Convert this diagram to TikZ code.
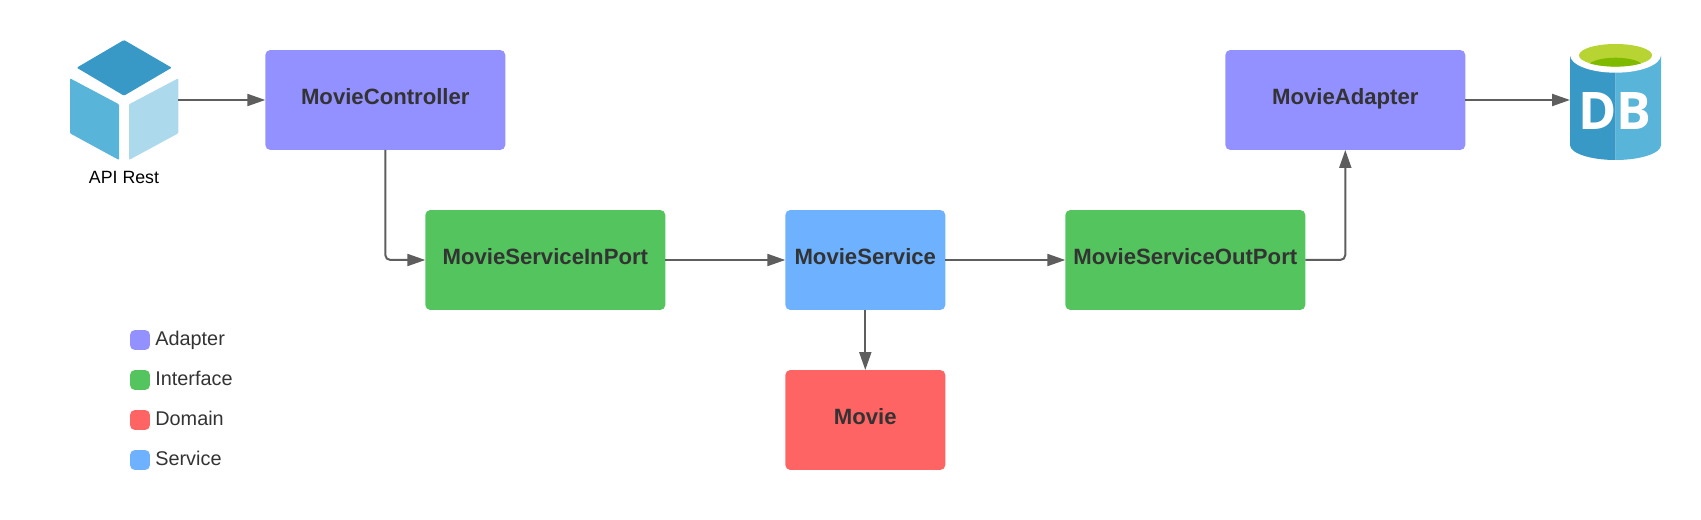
\documentclass[tikz,border=0pt]{standalone}
\usepackage{fontspec}
\setmainfont{Liberation Sans}
\newfontfamily\dbfont{Open Sans}
\usetikzlibrary{arrows.meta}
\definecolor{adaptercol}{HTML}{9391FF}
\definecolor{interfacecol}{HTML}{54C45E}
\definecolor{domaincol}{HTML}{FF6464}
\definecolor{servicecol}{HTML}{6DB1FF}
\definecolor{linecol}{HTML}{5E5E5E}
\definecolor{textcol}{HTML}{333333}
\definecolor{cubedark}{HTML}{3999C6}
\definecolor{cubemid}{HTML}{59B4D9}
\definecolor{cubelight}{HTML}{ADD9EC}
\definecolor{dblime}{HTML}{B8D432}
\definecolor{dbgreen}{HTML}{7FBA00}
\tikzstyle{box} = [rectangle, rounded corners=0.1cm, minimum height=2cm, outer sep=0pt, inner sep=0pt, text centered, text height=10pt, text depth=4.4pt, text=textcol, font=\fontsize{12.6}{15}\selectfont\bfseries]
\tikzstyle{adapterbox} = [box, minimum width=4.8cm, fill=adaptercol]
\tikzstyle{interfacebox} = [box, minimum width=4.8cm, fill=interfacecol]
\tikzstyle{servicebox} = [box, minimum width=3.2cm, fill=servicecol]
\tikzstyle{domainbox} = [box, minimum width=3.2cm, fill=domaincol]
\tikzstyle{legendbox} = [rectangle, rounded corners=0.1cm, minimum width=0.4cm, minimum height=0.4cm, inner sep=0pt, outer sep=0pt]
\tikzstyle{legendtext} = [anchor=base west, inner sep=0pt, text=textcol, font=\fontsize{11.3}{14}\selectfont]
\tikzstyle{icon} = [rectangle, inner sep=0pt, outer sep=0pt]
\tikzstyle{arrow} = [line width=0.04cm, draw=linecol, -{Triangle[length=0.36cm,width=0.24cm]}, rounded corners=0.1cm]

\begin{document}
\begin{tikzpicture}[x=0.02cm, y=-0.02cm]
               \useasboundingbox (0,0) rectangle (1701,520);
               % cube
               \fill [cubedark, rounded corners=0.02cm] (124,40) -- (171.7,67.7) -- (124,95.7) -- (76.7,67.7) -- cycle;
               \fill [cubemid, rounded corners=0.02cm] (70,78.3) -- (119,104.3) -- (119,160) -- (70,133.3) -- cycle;
               \fill [cubelight, rounded corners=0.02cm] (129,104.3) -- (178.3,78.3) -- (178.3,133.3) -- (129,160) -- cycle;
               \node [icon, minimum width=2.166cm, minimum height=2.4cm] at (124.15,100) (api) {};
               \node [anchor=base, inner sep=0pt, font=\fontsize{10.1}{12}\selectfont] at (124,184) (apilabel) {API Rest};
               % database
               \fill [cubedark] (1570,55) -- (1615.5,55) -- (1615.5,160) arc [start angle=90, end angle=180, x radius=45.5, y radius=15] -- cycle;
               \fill [cubemid] (1615.5,55) -- (1661,55) -- (1661,145) arc [start angle=0, end angle=90, x radius=45.5, y radius=15] -- cycle;
               \fill [white] (1615.5,55) ellipse [x radius=45.5, y radius=17.7];
               \fill [dblime] (1615.5,55.3) ellipse [x radius=36.5, y radius=11.3];
               \begin{scope}
               \clip (1615.5,55.3) ellipse [x radius=36.5, y radius=11.3];
               \fill [dbgreen] (1615.5,66.7) ellipse [x radius=27.5, y radius=9];
               \end{scope}
               \node [icon, minimum width=1.82cm, minimum height=2.4cm] at (1615.5,100) (db) {};
               \node [inner sep=0pt, text=white, font=\fontsize{29.5}{32}\selectfont\dbfont\bfseries] at (1615,111) (dblabel) {DB};
               % boxes
               \node [adapterbox] at (385.3,100) (controller) {MovieController};
               \node [interfacebox] at (545.3,260) (inport) {MovieServiceInPort};
               \node [servicebox] at (865.3,260) (moviesvc) {MovieService};
               \node [domainbox] at (865.3,420) (movie) {Movie};
               \node [interfacebox] at (1185.3,260) (outport) {MovieServiceOutPort};
               \node [adapterbox] at (1345.3,100) (movieadapter) {MovieAdapter};
               % legend
               \node [legendbox, fill=adaptercol] at (140,340) (legend1) {};
               \node [legendbox, fill=interfacecol] at (140,380) (legend2) {};
               \node [legendbox, fill=domaincol] at (140,420) (legend3) {};
               \node [legendbox, fill=servicecol] at (140,460) (legend4) {};
               \node [legendtext] at (155,345) (legendlabel1) {Adapter};
               \node [legendtext] at (155,385) (legendlabel2) {Interface};
               \node [legendtext] at (155,425) (legendlabel3) {Domain};
               \node [legendtext] at (155,465) (legendlabel4) {Service};
               % arrows
               \draw [arrow] (api) -- (controller);
               \draw [arrow] (controller) |- (inport);
               \draw [arrow] (inport) -- (moviesvc);
               \draw [arrow] (moviesvc) -- (movie);
               \draw [arrow] (moviesvc) -- (outport);
               \draw [arrow] (outport) -| (movieadapter);
               \draw [arrow] (movieadapter) -- (db);
               \end{tikzpicture}
\end{document}
